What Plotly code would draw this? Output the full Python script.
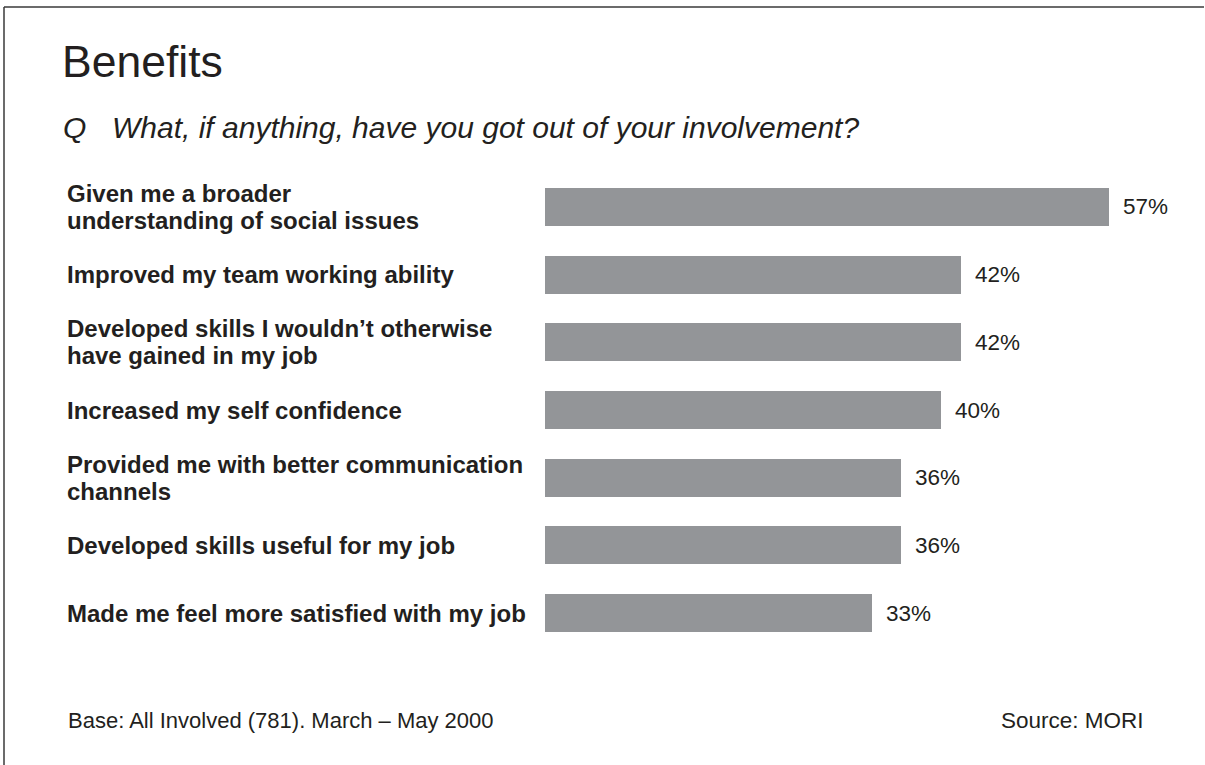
import plotly.graph_objects as go

# Survey answers, top to bottom (each label split into its printed lines)
categories = [
    "Given me a broader|understanding of social issues",
    "Improved my team working ability",
    "Developed skills I wouldn\u2019t otherwise|have gained in my job",
    "Increased my self confidence",
    "Provided me with better communication|channels",
    "Developed skills useful for my job",
    "Made me feel more satisfied with my job",
]
values = [57, 42, 42, 40, 36, 36, 33]
value_labels = [f"{v}%" for v in values]

TITLE = "Benefits"
QUESTION = "What, if anything, have you got out of your involvement?"
BASE_NOTE = "Base: All Involved (781). March \u2013 May 2000"
SOURCE_NOTE = "Source: MORI"

# Page geometry (pixels)
W_PX, H_PX = 1205, 765
M_L, M_R, M_T, M_B = 545, 66, 173, 118
PLOT_W = W_PX - M_L - M_R
PLOT_H = H_PX - M_T - M_B

TEXT = "#231f20"
BAR = "#939598"
FONT = "Liberation Sans, Arial, Helvetica, sans-serif"
LABEL_SIZE = 24
LINE_GAP = 27


def px_x(p):
    return (p - M_L) / PLOT_W


def px_y(p):
    return 1 - (p - M_T) / PLOT_H


fig = go.Figure(
    go.Bar(
        x=values,
        y=categories,
        orientation="h",
        marker=dict(color=BAR, line=dict(width=0)),
        width=0.56,
        hoverinfo="skip",
    )
)

annotations = []

# Category labels, left aligned, one annotation per printed line
for cat in categories:
    lines = cat.split("|")
    n = len(lines)
    for i, line in enumerate(lines):
        offset = (i - (n - 1) / 2) * LINE_GAP
        annotations.append(dict(
            x=px_x(65), xref="paper", xanchor="left",
            y=cat, yref="y", yanchor="middle", yshift=-offset,
            text=f"<b>{line}</b>", align="left", showarrow=False,
            font=dict(family=FONT, size=LABEL_SIZE, color=TEXT),
        ))

# Value labels just past the bar ends
for cat, v, lab in zip(categories, values, value_labels):
    annotations.append(dict(
        x=v, xref="x", xanchor="left", xshift=12,
        y=cat, yref="y", yanchor="middle",
        text=lab, showarrow=False,
        font=dict(family=FONT, size=22.5, color=TEXT),
    ))

# Heading, question and footnotes
annotations += [
    dict(x=px_x(60), y=px_y(61), xref="paper", yref="paper",
         xanchor="left", yanchor="middle", text=TITLE, showarrow=False,
         font=dict(family=FONT, size=44.5, color=TEXT)),
    dict(x=px_x(61), y=px_y(128), xref="paper", yref="paper",
         xanchor="left", yanchor="middle", text="<i>Q</i>", showarrow=False,
         font=dict(family=FONT, size=30, color=TEXT)),
    dict(x=px_x(110), y=px_y(128), xref="paper", yref="paper",
         xanchor="left", yanchor="middle", text=f"<i>{QUESTION}</i>", showarrow=False,
         font=dict(family=FONT, size=30, color=TEXT)),
    dict(x=px_x(66), y=px_y(720), xref="paper", yref="paper",
         xanchor="left", yanchor="middle", text=BASE_NOTE, showarrow=False,
         font=dict(family=FONT, size=22, color=TEXT)),
    dict(x=px_x(1146), y=px_y(720), xref="paper", yref="paper",
         xanchor="right", yanchor="middle", text=SOURCE_NOTE, showarrow=False,
         font=dict(family=FONT, size=22.5, color=TEXT)),
]

# Frame lines along the top and left edges
shapes = [
    dict(type="line", xref="paper", yref="paper",
         x0=px_x(4), x1=px_x(W_PX - 1), y0=px_y(7), y1=px_y(7),
         line=dict(color="#3a3a3a", width=1.5)),
    dict(type="line", xref="paper", yref="paper",
         x0=px_x(4), x1=px_x(4), y0=px_y(7), y1=px_y(H_PX),
         line=dict(color="#3a3a3a", width=1.5)),
]

fig.update_layout(
    width=W_PX, height=H_PX,
    margin=dict(l=M_L, r=M_R, t=M_T, b=M_B, pad=0),
    paper_bgcolor="white", plot_bgcolor="white",
    showlegend=False,
    bargap=0,
    xaxis=dict(range=[0, 60], visible=False, fixedrange=True),
    yaxis=dict(type="category", categoryorder="array", categoryarray=categories,
               range=[len(categories) - 0.5, -0.5], visible=False, fixedrange=True),
    annotations=annotations,
    shapes=shapes,
    font=dict(family=FONT, color=TEXT),
)

fig.write_html("out.html", config={"displayModeBar": False})
